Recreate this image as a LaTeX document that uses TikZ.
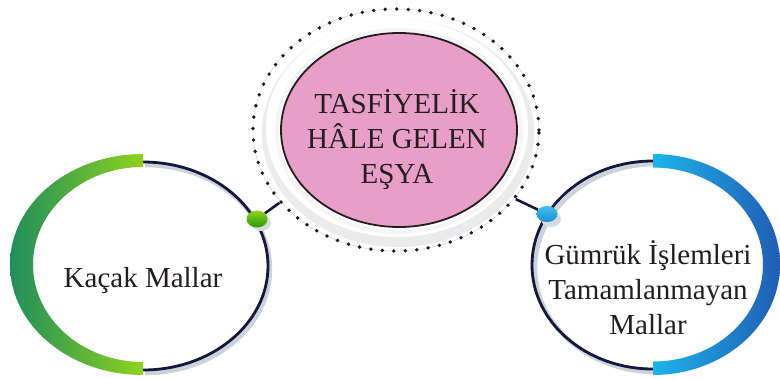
\documentclass[tikz,border=0pt]{standalone}
\usepackage{fontspec}
\setmainfont{Liberation Serif}
\usetikzlibrary{shapes.geometric}
\definecolor{navy}{HTML}{16163F}
\definecolor{shad}{HTML}{CBD3D8}
\definecolor{pinkfill}{HTML}{E99EC7}
\definecolor{ink}{HTML}{231F20}
\definecolor{gdark}{HTML}{1E8E5C}
\definecolor{glight}{HTML}{8ED31D}
\definecolor{bdark}{HTML}{205DB4}
\definecolor{blight}{HTML}{1DB4EB}
\definecolor{dotc}{HTML}{1A1A2A}
\tikzset{
  x=1pt, y=1pt,
  label text/.style={font=\fontsize{29}{35}\selectfont, text=ink, align=center, inner sep=0pt},
  darkline/.style={draw=navy, line width=2.8pt},
  shadowline/.style={draw=shad, line width=4.5pt},
  connector/.style={draw=navy, line width=2.6pt},
  dotshadow/.style={ellipse, fill=shad!80, minimum width=20pt, minimum height=16pt, inner sep=0pt},
  greendot/.style={ellipse, minimum width=21pt, minimum height=17pt, inner sep=0pt, top color=glight, bottom color=green!50!black!70!glight},
  bluedot/.style={ellipse, minimum width=21pt, minimum height=16pt, inner sep=0pt, top color=blight!85!white, bottom color=blight!60!bdark},
}
\begin{document}
\begin{tikzpicture}
\useasboundingbox (0,0) rectangle (780,-378);
\fill[white] (0,0) rectangle (780,-378);

% ---------- left circle ----------
\draw[shadowline] (145,-165) arc[start angle=90, end angle=-90, x radius=125, y radius=104];
\draw[darkline] (143,-162) arc[start angle=90, end angle=-90, x radius=125, y radius=104];
\path[left color=gdark, right color=glight]
  (143,-154) arc[start angle=90, end angle=270, x radius=133, y radius=110.5]
  -- (143,-362) arc[start angle=270, end angle=90, x radius=110, y radius=97.5] -- cycle;
\node[label text, anchor=base] (kacak) at (143,-287) {Kaçak Mallar};

% ---------- right circle ----------
\draw[shadowline] (656,-164) arc[start angle=90, end angle=270, x radius=121, y radius=104];
\draw[darkline] (653,-161) arc[start angle=90, end angle=270, x radius=121, y radius=104];
\path[left color=blight, right color=bdark]
  (653,-154) arc[start angle=90, end angle=-90, x radius=127, y radius=110.5]
  -- (653,-361.5) arc[start angle=-90, end angle=90, x radius=110, y radius=97] -- cycle;
\node[label text, anchor=base] (gumruk) at (648,-334) {Gümrük İşlemleri\\Tamamlanmayan\\Mallar};

% ---------- central node ----------
\fill[gray!16] (398,-133) ellipse[x radius=136, y radius=114];
\fill[white] (397,-128) ellipse[x radius=131, y radius=109];
\draw[gray!8, line width=4pt] (399,-131) ellipse[x radius=122, y radius=101];
\draw[gray!40, line width=0.4pt] (396,-130) ellipse[x radius=143, y radius=121];
\node[ellipse, minimum width=286pt, minimum height=242pt, inner sep=0pt,
      draw=dotc, line width=3.8pt, line cap=round, dash pattern=on 0pt off 11.5pt] (ring) at (396,-130) {};
\node[ellipse, minimum width=236pt, minimum height=194pt, inner sep=0pt,
      fill=pinkfill, draw=ink, line width=1.8pt] (core) at (399,-130) {};
\node[label text, anchor=base] (title) at (397,-183) {TASFİYELİK\\HÂLE GELEN\\EŞYA};

% ---------- connectors and dots ----------
\node[dotshadow] (gs) at (261,-223) {};
\node[greendot] (gd) at (257,-219) {};
\draw[connector] (ring.212.9) -- (gd);
\node[dotshadow] (bs) at (551,-219) {};
\node[bluedot] (bd) at (547,-214) {};
\draw[connector] (ring.330.1) -- (bd);
\end{tikzpicture}
\end{document}
